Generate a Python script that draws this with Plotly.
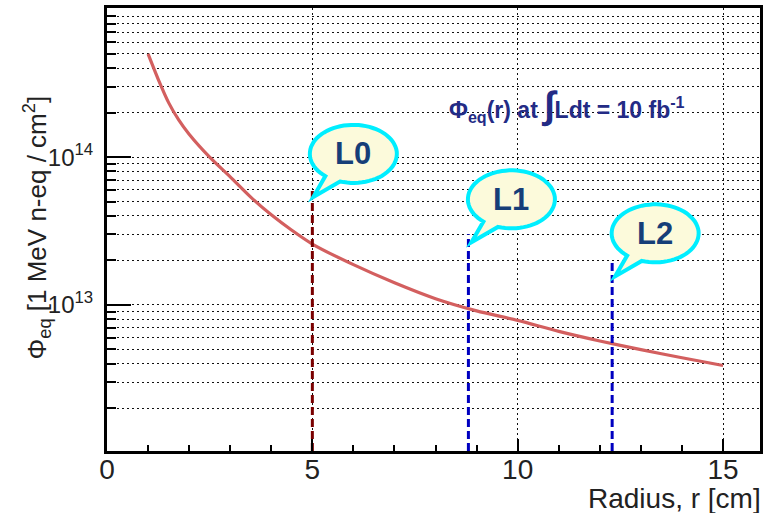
import numpy as np
import plotly.graph_objects as go

# ---- data ----
radius_cm = [1, 1.25, 1.5, 1.75, 2, 2.5, 3, 3.5, 4, 4.5, 5, 6, 7, 8, 9, 10, 11, 12, 13, 14, 15]
fluence = [5.0e14, 3.35e14, 2.34e14, 1.78e14, 1.43e14, 1.0e14, 7.35e13, 5.36e13, 4.07e13,
           3.2e13, 2.58e13, 1.87e13, 1.41e13, 1.10e13, 9.1e12, 7.85e12, 6.61e12, 5.69e12,
           4.97e12, 4.38e12, 3.88e12]

layer_names = ["L0", "L1", "L2"]
layer_radius = [5.0, 8.8, 12.3]
layer_top = [6.0e13, 3.0e13, 2.0e13]
layer_colors = ["#7a0000", "#0000c0", "#0000c0"]

x_ticks = [0, 5, 10, 15]
y_major = [1e13, 1e14]
y_major_text = ["10<sup>13</sup>", "10<sup>14</sup>"]
y_minor = [m * 10.0 ** e for e in (12, 13, 14) for m in range(2, 10)]

YMIN, YMAX = 12.01, 15.01
FONT = "Liberation Sans, Arial, sans-serif"
GRIDCOL = "#111111"
GRIDDASH = "2px,3px"
GRIDW = 1.4

fig = go.Figure()

fig.add_trace(go.Scatter(x=radius_cm, y=fluence, mode="lines",
                         line=dict(color="#d35f5f", width=3.2, shape="spline", smoothing=0.8),
                         hoverinfo="skip"))

for r, top, c in zip(layer_radius, layer_top, layer_colors):
    fig.add_trace(go.Scatter(x=[r, r], y=[10 ** YMIN, top], mode="lines",
                             line=dict(color=c, width=3, dash="8px,4px"),
                             hoverinfo="skip"))


def paper_y(v):
    return (np.log10(v) - YMIN) / (YMAX - YMIN)


def bubble_path(tdx, tdy, a=43.5, b=29.0):
    cx, cy = tdx + 40.0, tdy + 43.0
    ang = np.deg2rad(np.linspace(252, 590, 70))
    pts = [(cx + a * np.cos(t), cy + b * np.sin(t)) for t in ang]
    s = "M %.1f,%.1f " % pts[0]
    s += " ".join("L %.1f,%.1f" % p for p in pts[1:])
    s += " L %.1f,%.1f Z" % (tdx, tdy)
    return s


tip_offsets = [(1, -7), (3, -8), (3, -16)]
for name, r, top, (tdx, tdy) in zip(layer_names, layer_radius, layer_top, tip_offsets):
    fig.add_shape(type="path", xref="x", yref="paper",
                  xsizemode="pixel", ysizemode="pixel",
                  xanchor=r, yanchor=paper_y(top),
                  path=bubble_path(tdx, tdy),
                  fillcolor="#fcfadb", line=dict(color="#00eeff", width=4),
                  layer="above")
    fig.add_annotation(x=r, xref="x", y=paper_y(top), yref="paper",
                       xshift=tdx + 40, yshift=tdy + 43,
                       text="<b>%s</b>" % name, showarrow=False,
                       font=dict(family=FONT, size=31, color="#163e78"),
                       xanchor="center", yanchor="middle")

fig.add_annotation(x=11.2, xref="x", y=0.78, yref="paper",
                   text="<b>Φ<sub>eq</sub>(r) at <span style='font-size:38px'>∫</span>Ldt = 10 fb<sup>-1</sup></b>",
                   showarrow=False, xanchor="center", yanchor="middle",
                   font=dict(family=FONT, size=23, color="#232b85"))

fig.add_annotation(x=-0.107, xref="paper", y=0.505, yref="paper",
                   text="Φ<sub>eq</sub> [1 MeV n-eq / cm<sup>2</sup>]",
                   textangle=-90, showarrow=False, xanchor="center", yanchor="middle",
                   font=dict(family=FONT, size=26, color="#222222"))

fig.add_annotation(x=1.004, xref="paper", y=-0.108, yref="paper",
                   text="Radius, r [cm]", showarrow=False,
                   xanchor="right", yanchor="middle",
                   font=dict(family=FONT, size=28, color="#222222"))

fig.update_xaxes(range=[0, 15.9], tickvals=x_ticks, ticks="inside", ticklen=12,
                 tickwidth=1.5, tickcolor="black",
                 showline=True, linewidth=3, linecolor="black", mirror=True,
                 zeroline=False, tickfont=dict(family=FONT, size=28, color="#222222"),
                 ticklabelstandoff=-9,
                 showgrid=True, gridcolor=GRIDCOL, gridwidth=GRIDW, griddash=GRIDDASH,
                 minor=dict(dtick=1, tick0=0, ticks="inside", ticklen=6, tickwidth=1.5,
                            tickcolor="black", showgrid=False))

fig.update_yaxes(type="log", range=[YMIN, YMAX], tickvals=y_major, ticktext=y_major_text,
                 ticks="inside", ticklen=24, tickwidth=2, tickcolor="black",
                 showline=True, linewidth=3, linecolor="black", mirror=True,
                 zeroline=False, tickfont=dict(family=FONT, size=24, color="#222222"),
                 ticklabelstandoff=6,
                 showgrid=True, gridcolor=GRIDCOL, gridwidth=GRIDW, griddash=GRIDDASH,
                 minor=dict(tickvals=y_minor, ticks="inside", ticklen=9, tickwidth=2,
                            tickcolor="black", showgrid=True, gridcolor=GRIDCOL,
                            gridwidth=GRIDW, griddash=GRIDDASH))

fig.update_layout(width=778, height=513, showlegend=False,
                  margin=dict(l=107, r=18, t=5, b=62),
                  paper_bgcolor="white", plot_bgcolor="white",
                  font=dict(family=FONT))

fig.write_html("out.html")
